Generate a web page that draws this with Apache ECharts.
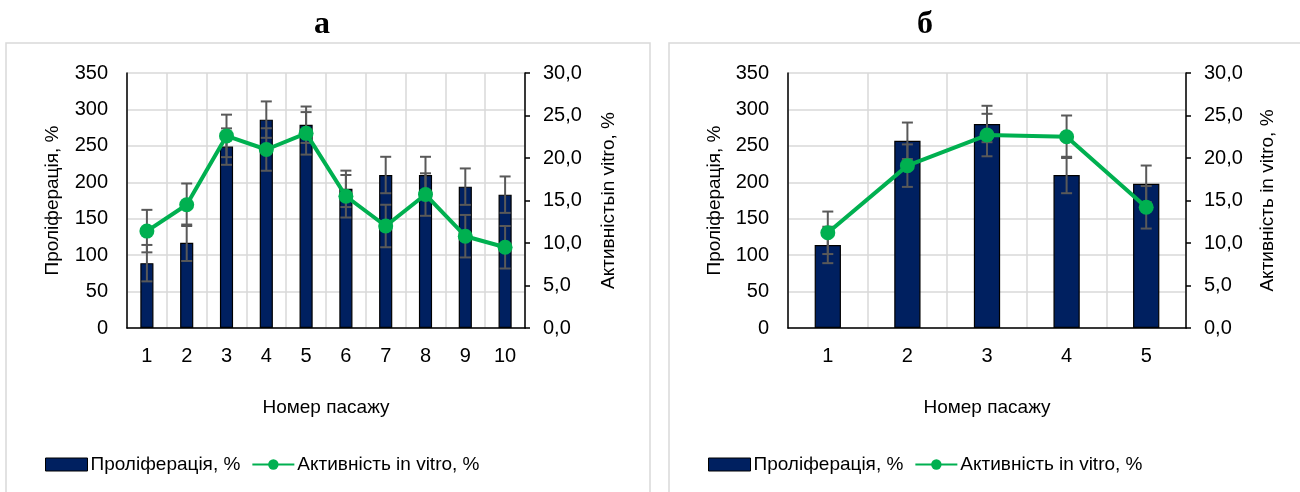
<!DOCTYPE html>
<html>
<head>
<meta charset="utf-8">
<script src="https://cdn.jsdelivr.net/npm/echarts@6/dist/echarts.min.js"></script>
<style>
  html, body { margin: 0; padding: 0; background: #fff; }
  #chart { width: 1300px; height: 492px; }
</style>
</head>
<body>
<div id="chart"></div>
<script>
// Panel "а": passages 1–10
const passagesA = ['1', '2', '3', '4', '5', '6', '7', '8', '9', '10'];
const prolifA = [89, 117, 249, 286, 279, 191, 210, 210, 194, 183];
const prolifErrA = [25, 25, 25, 25, 25, 25, 25, 25, 25, 25];
const activA = [11.4, 14.5, 22.6, 21.0, 22.9, 15.5, 12.0, 15.7, 10.8, 9.5];
const activErrA = [2.5, 2.5, 2.5, 2.5, 2.5, 2.5, 2.5, 2.5, 2.5, 2.5];

// Panel "б": passages 1–5
const passagesB = ['1', '2', '3', '4', '5'];
const prolifB = [114, 257, 280, 210, 198];
const prolifErrB = [25, 25, 25, 25, 25];
const activB = [11.2, 19.1, 22.7, 22.5, 14.2];
const activErrB = [2.5, 2.5, 2.5, 2.5, 2.5];

// Axis ticks
const leftTicks = { min: 0, max: 350, interval: 50 };
const rightTicks = { min: 0, max: 30, interval: 5 };

const panelTitles = ['а', 'б'];
const xName = 'Номер пасажу';
const leftName = 'Проліферація, %';
const rightNames = ['Активністьin vitro, %', 'Активність in vitro, %'];
const barName = 'Проліферація, %';
const lineName = 'Активність in vitro, %';

const FONT = '"Liberation Sans", Arial, sans-serif';
const NAVY = '#002060';
const GREEN = '#00B050';
const ERR = '#595959';
const GRID = '#d9d9d9';

function errPairs(vals, errs) {
  return vals.map((v, i) => [i, v - errs[i], v + errs[i]]);
}

// Vertical whisker with caps at both ends
function errRender(params, api) {
  const x = api.value(0);
  const top = api.coord([x, api.value(2)]);
  const bot = api.coord([x, api.value(1)]);
  const w = 5.5;
  const st = { stroke: ERR, lineWidth: 2 };
  return {
    type: 'group',
    children: [
      { type: 'line', shape: { x1: top[0], y1: top[1], x2: bot[0], y2: bot[1] }, style: st },
      { type: 'line', shape: { x1: top[0] - w, y1: top[1], x2: top[0] + w, y2: top[1] }, style: st },
      { type: 'line', shape: { x1: bot[0] - w, y1: bot[1], x2: bot[0] + w, y2: bot[1] }, style: st }
    ]
  };
}

const grids = [
  { left: 127, top: 73, width: 398, height: 255 },
  { left: 788, top: 73, width: 398, height: 255 }
];
const cats = [passagesA, passagesB];
const leftNameGap = [65, 64];
const rightNameGap = [74, 72];

const xAxes = cats.map((c, i) => ({
  type: 'category', gridIndex: i, data: c, boundaryGap: true,
  name: xName, nameLocation: 'middle', nameGap: 70,
  nameTextStyle: { fontFamily: FONT, fontSize: 19, color: '#000' },
  axisLine: { show: true, lineStyle: { color: '#000', width: 1.5 } },
  axisTick: { show: false },
  axisLabel: { fontFamily: FONT, fontSize: 20, color: '#000', margin: 18 },
  splitLine: { show: true, lineStyle: { color: GRID, width: 1.5 } }
}));

const yAxes = [];
[0, 1].forEach(i => {
  yAxes.push({
    type: 'value', gridIndex: i, position: 'left',
    min: leftTicks.min, max: leftTicks.max, interval: leftTicks.interval,
    name: leftName, nameLocation: 'middle', nameGap: leftNameGap[i], nameRotate: 90,
    nameTextStyle: { fontFamily: FONT, fontSize: 19, color: '#000' },
    axisLine: { show: true, lineStyle: { color: '#000', width: 1.5 } },
    axisTick: { show: false },
    axisLabel: { fontFamily: FONT, fontSize: 20, color: '#000', margin: 19 },
    splitLine: { show: true, lineStyle: { color: GRID, width: 1.5 } }
  });
  yAxes.push({
    type: 'value', gridIndex: i, position: 'right',
    min: rightTicks.min, max: rightTicks.max, interval: rightTicks.interval,
    name: rightNames[i], nameLocation: 'middle', nameGap: rightNameGap[i], nameRotate: 90,
    nameTextStyle: { fontFamily: FONT, fontSize: 19, color: '#000' },
    axisLine: { show: true, lineStyle: { color: '#000', width: 1.5 } },
    axisTick: { show: true, inside: false, length: 5, lineStyle: { color: '#000', width: 1.5 } },
    axisLabel: {
      fontFamily: FONT, fontSize: 20, color: '#000', margin: 18,
      formatter: v => v.toFixed(1).replace('.', ',')
    },
    splitLine: { show: false }
  });
});

const panels = [
  { prolif: prolifA, pErr: prolifErrA, activ: activA, aErr: activErrA },
  { prolif: prolifB, pErr: prolifErrB, activ: activB, aErr: activErrB }
];

const series = [];
panels.forEach((p, i) => {
  series.push({
    name: barName, type: 'bar', xAxisIndex: i, yAxisIndex: i * 2,
    data: p.prolif, barWidth: '33%', z: 2,
    itemStyle: { color: NAVY, borderColor: '#000', borderWidth: 1.2 }
  });
  series.push({
    name: 'prolif-err-' + i, type: 'custom', xAxisIndex: i, yAxisIndex: i * 2,
    data: errPairs(p.prolif, p.pErr), encode: { x: 0, y: [1, 2] },
    renderItem: errRender, z: 3, silent: true
  });
  series.push({
    name: 'activ-err-' + i, type: 'custom', xAxisIndex: i, yAxisIndex: i * 2 + 1,
    data: errPairs(p.activ, p.aErr), encode: { x: 0, y: [1, 2] },
    renderItem: errRender, z: 3, silent: true
  });
  series.push({
    name: lineName, type: 'line', xAxisIndex: i, yAxisIndex: i * 2 + 1,
    data: p.activ, symbol: 'circle', symbolSize: 15, z: 4,
    lineStyle: { color: GREEN, width: 4 },
    itemStyle: { color: GREEN, borderWidth: 0 }
  });
});

const legendBase = {
  top: 450, itemWidth: 42, itemHeight: 13, itemGap: 11,
  textStyle: { fontFamily: FONT, fontSize: 19, color: '#000', padding: [0, 0, 0, -2] },
  data: [
    { name: barName, icon: 'rect', itemStyle: { color: NAVY, borderColor: '#000', borderWidth: 1 } },
    { name: lineName, symbolSize: 12 }
  ],
  selectedMode: false
};

const chart = echarts.init(document.getElementById('chart'), null, { renderer: 'canvas' });
chart.setOption({
  animation: false,
  backgroundColor: '#fff',
  grid: grids,
  xAxis: xAxes,
  yAxis: yAxes,
  legend: [
    Object.assign({}, legendBase, { left: 40 }),
    Object.assign({}, legendBase, { left: 703 })
  ],
  graphic: [
    { type: 'rect', shape: { x: 6, y: 43, width: 644, height: 470 },
      style: { fill: 'none', stroke: GRID, lineWidth: 1.5 }, z: -1 },
    { type: 'rect', shape: { x: 669, y: 43, width: 660, height: 470 },
      style: { fill: 'none', stroke: GRID, lineWidth: 1.5 }, z: -1 },
    { type: 'text', x: 322, y: 25,
      style: { text: panelTitles[0], align: 'center', verticalAlign: 'middle',
               font: 'bold 32px "Liberation Serif", "Times New Roman", serif', fill: '#000' } },
    { type: 'text', x: 925, y: 25,
      style: { text: panelTitles[1], align: 'center', verticalAlign: 'middle',
               font: 'bold 32px "Liberation Serif", "Times New Roman", serif', fill: '#000' } }
  ],
  series: series
});
</script>
</body>
</html>
